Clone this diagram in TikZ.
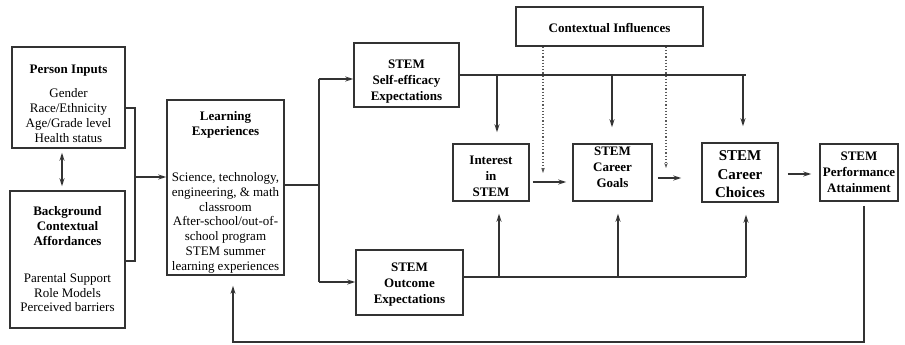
\documentclass[tikz,border=0pt]{standalone}
\usepackage{fontspec}
\setmainfont{Liberation Serif}
\usetikzlibrary{arrows.meta,positioning,calc}

% pushes the text of a box down (height) or up (depth)
\newcommand{\dn}[1]{\rule{0pt}{#1}}
\newcommand{\up}[1]{\rule[-#1]{0pt}{1pt}}

\tikzset{
  box/.style={draw=black!80, line width=1.5pt, align=center, inner sep=2pt,
    font=\fontsize{13}{14.8}\selectfont},
  title/.style={box, font=\fontsize{13}{16}\selectfont\bfseries},
  flow/.style={draw=black!80, line width=1.2pt},
  dots/.style={draw=black!65, line width=1.2pt, dotted, -{Stealth[length=5pt,width=3.5pt]}}
}

\begin{document}
\begin{tikzpicture}[x=1pt,y=-1pt,>={Stealth[length=8pt,width=5pt]}]
\useasboundingbox[fill=white] (0,0) rectangle (905,345);
% boxes
\node[box, minimum width=113, minimum height=101] (person) at (68.5,97.5)
  {\dn{21pt}\textbf{Person Inputs}\\[9pt] Gender\\ Race/Ethnicity\\ Age/Grade level\\ Health status};
\node[box, minimum width=115, minimum height=137] (backg) at (67.5,259.5)
  {\textbf{Background}\\ \textbf{Contextual}\\ \textbf{Affordances}\\[22pt] Parental Support\\ Role Models\\ Perceived barriers};
\node[box, minimum width=117, minimum height=175] (learn) at (225.5,187.5)
  {\dn{19pt}\textbf{Learning}\\ \textbf{Experiences}\\[31pt] Science, technology,\\ engineering, \& math\\ classroom\\ After-school/out-of-\\ school program\\ STEM summer\\ learning experiences};
\node[title, minimum width=105, minimum height=64] (self) at (406.5,75)
  {\dn{21pt}STEM\\ Self-efficacy\\ Expectations};
\node[title, minimum width=107, minimum height=65] (outc) at (409.5,282.5)
  {\dn{13pt}STEM\\ Outcome\\ Expectations};
\node[title, minimum width=187, minimum height=39] (ctx) at (609.5,26.5)
  {\dn{13pt}Contextual Influences};
\node[title, minimum width=76, minimum height=57] (interest) at (491,172.5)
  {\dn{17pt}Interest\\ in\\ STEM};
\node[title, minimum width=79, minimum height=57] (goals) at (612.5,172.5)
  {STEM\\ Career\\ Goals\up{10pt}};
\node[title, font=\fontsize{15}{18.5}\selectfont\bfseries, minimum width=76, minimum height=59] (choices) at (740,172.5)
  {\dn{14pt}STEM\\ Career\\ Choices};
\node[title, minimum width=78, minimum height=57] (perf) at (859,172.5)
  {STEM\\ Performance\\ Attainment};

% inputs to learning
\draw[flow, <->] (62,0 |- person.south) ++(0,4) -- ($(62,0 |- backg.north)+(0,-4)$);
\coordinate (j1) at (135,177);
\draw[flow] (person.east |- 0,108) -- (135,108) -- (135,261) -- (backg.east |- 0,261);
\draw[flow, ->] (j1) -- (learn.west |- j1);

% learning to expectations
\coordinate (j2) at (319,185);
\draw[flow] (learn.east |- j2) -- (j2);
\draw[flow] (319,79) -- (319,282);
\draw[flow, ->] (319,79) -- (self.west |- 0,79);
\draw[flow, ->] (319,282) -- (outc.west |- 0,282);

% self-efficacy
\draw[flow] (self.east |- 0,75) -- (746,75);
\draw[flow, ->, shorten >=11pt] (497,75) -- (497,0 |- interest.north);
\draw[flow, ->, shorten >=16pt] (612,75) -- (612,0 |- goals.north);
\draw[flow, ->, shorten >=16pt] (743,75) -- (743,0 |- choices.north);

% outcome
\draw[flow] (outc.east |- 0,277) -- (746,277);
\foreach \x/\n in {499/interest, 618/goals, 746/choices}
    \draw[flow, ->, shorten >=12pt] (\x,277) -- (\x,0 |- \n.south);

% contextual influences
\coordinate (d1) at (543,173);
\coordinate (d2) at (666,168);
\draw[dots] (d1 |- ctx.south) -- (d1);
\draw[dots] (d2 |- ctx.south) -- (d2);

% main chain
\draw[flow, ->, shorten <=3pt, shorten >=6pt] (interest.east |- 0,182) -- (goals.west |- 0,182);
\draw[flow, ->, shorten <=5pt, shorten >=20pt] (goals.east |- 0,178) -- (choices.west |- 0,178);
\draw[flow, ->, shorten <=9pt, shorten >=8pt] (choices.east |- 0,174) -- (perf.west |- 0,174);

% feedback
\draw[flow, ->, shorten <=4pt, shorten >=10pt] (864,0 |- perf.south) -- (864,342) -- (233,342) -- (233,0 |- learn.south);
\end{tikzpicture}
\end{document}
